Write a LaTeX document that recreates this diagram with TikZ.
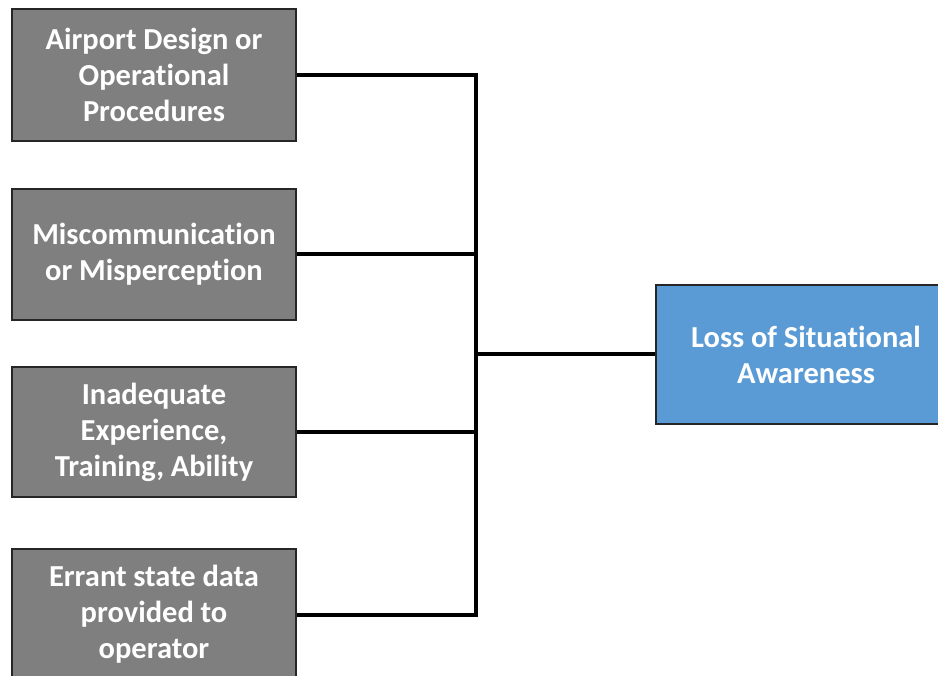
\documentclass[tikz,border=0pt]{standalone}
\usepackage{fontspec}
\setmainfont{Carlito}[Ligatures=CommonOff]
\usepackage{xcolor}
\usepackage{tikz}
\definecolor{causegray}{HTML}{7F7F7F}
\definecolor{effectblue}{HTML}{5B9BD5}
\tikzset{
	cause node/.style={rectangle,draw=black!85,line width=2pt,fill=causegray,text=white,
		font=\fontsize{30.5}{36}\selectfont\bfseries,align=center,text width=280pt,
		execute at begin node={\spaceskip=0.22em\relax},
		minimum width=284pt,inner sep=0pt},
	effect node/.style={cause node,fill=effectblue,text width=296pt,minimum width=300pt},
	link/.style={line width=4pt,draw=black}
}

\begin{document}
\begin{tikzpicture}[x=1pt,y=-1pt]
      \useasboundingbox (0,0) rectangle (938,676);

      \node[cause node,minimum height=132pt] (1) at (154,75) {Airport Design or\\Operational\\Procedures};
      \node[cause node,minimum height=131pt] (2) at (154,254.5) {Miscommunication\\or Misperception};
      \node[cause node,minimum height=130pt] (3) at (154,432) {Inadequate\\Experience,\\Training, Ability};
      \node[cause node,minimum height=131pt] (4) at (154,614.5) {Errant state data\\provided to\\operator};

      \node[effect node,minimum height=139pt] (5) at (806,354.5) {Loss of Situational\\Awareness};

      \coordinate (6) at (476,354.5);

      \path[link]
        (1.east) -| (6)
        (2.east) -| (6)
        (3.east) -| (6)
        (4.east) -| (6)
        (6) -- (5.west);
    \end{tikzpicture}
\end{document}
